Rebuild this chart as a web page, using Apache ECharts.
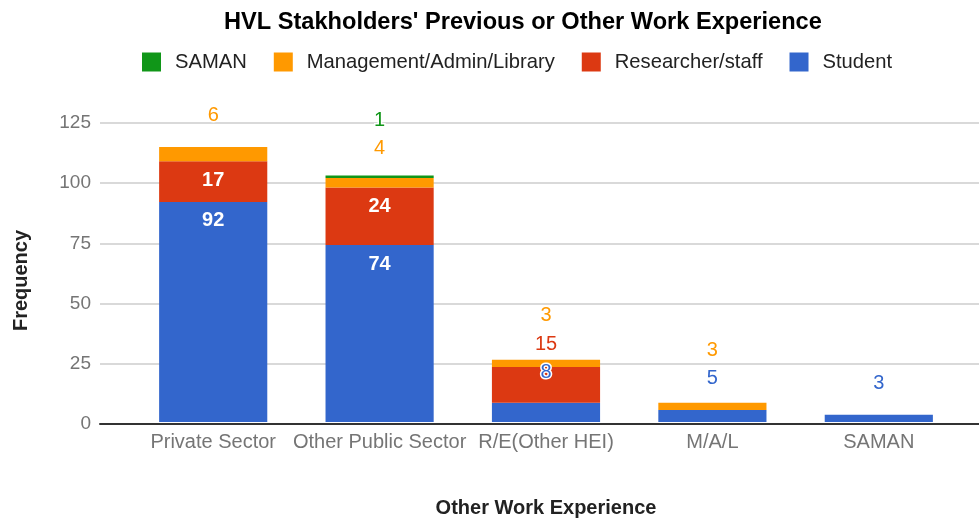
<!DOCTYPE html>
<html>
<head>
<meta charset="utf-8">
<script src="https://cdn.jsdelivr.net/npm/echarts@6/dist/echarts.min.js"></script>
<style>
html,body{margin:0;padding:0;background:#fff;}
#chart{width:979px;height:523px;}
</style>
</head>
<body>
<div id="chart"></div>
<script>
// ---- data ----
const categories = ['Private Sector', 'Other Public Sector', 'R/E(Other HEI)', 'M/A/L', 'SAMAN'];
const student    = [92, 74, 8, 5, 3];
const researcher = [17, 24, 15, 0, 0];
const management = [6, 4, 3, 3, 0];
const saman      = [0, 1, 0, 0, 0];
const yMin = 0, yMax = 125, yInterval = 25;

// ---- styling / layout ----
const FONT = '"Liberation Sans", Arial, sans-serif';
const colors = { student: '#3366cc', researcher: '#dc3912', management: '#ff9900', saman: '#109618' };
const gridTop = 123, gridBottom = 99;
const plotH = 523 - gridTop - gridBottom;
const ppu = plotH / (yMax - yMin);
const annotationLift = [31, 27, -13, 24, 31]; // px above bar top for first outside label
const annotationStep = 28.5;
const insideMinPx = 40;

const stackOrder = [
  { name: 'Student', values: student, color: colors.student },
  { name: 'Researcher/staff', values: researcher, color: colors.researcher },
  { name: 'Management/Admin/Library', values: management, color: colors.management },
  { name: 'SAMAN', values: saman, color: colors.saman }
];

function isInside(v) { return v * ppu >= insideMinPx; }

const series = stackOrder.map((s, si) => {
  const data = s.values.map((v, c) => {
    if (!v) return { value: v, label: { show: false } };
    if (isInside(v)) {
      return { value: v, label: { show: true, position: ['50%', 19], align: 'center', verticalAlign: 'middle',
        color: '#fff', fontWeight: 'bold', fontSize: 20, fontFamily: FONT } };
    }
    let rank = 0;
    for (let k = 0; k < si; k++) {
      const w = stackOrder[k].values[c];
      if (w && !isInside(w)) rank++;
    }
    let above = 0;
    for (let k = si + 1; k < stackOrder.length; k++) above += stackOrder[k].values[c];
    const lift = annotationLift[c] + rank * annotationStep;
    const y = -(above * ppu + lift);
    return { value: v, label: { show: true, position: ['50%', y], align: 'center', verticalAlign: 'middle',
      color: s.color, fontSize: 20, fontFamily: FONT, textBorderColor: '#fff', textBorderWidth: 3 } };
  });
  return {
    name: s.name, type: 'bar', stack: 'total', xAxisIndex: 1, yAxisIndex: 1,
    barWidth: '65%', itemStyle: { color: s.color }, data: data,
    emphasis: { disabled: true }, z: 3
  };
});

const chart = echarts.init(document.getElementById('chart'), null, { renderer: 'canvas' });
chart.setOption({
  animation: false,
  color: stackOrder.map(s => s.color),
  title: {
    text: "HVL Stakholders' Previous or Other Work Experience",
    left: 219, top: 5,
    textStyle: { fontFamily: FONT, fontSize: 23.6, fontWeight: 'bold', color: '#000' }
  },
  legend: {
    data: ['SAMAN', 'Management/Admin/Library', 'Researcher/staff', 'Student'],
    left: 137, top: 47,
    icon: 'rect', itemWidth: 19, itemHeight: 19, itemGap: 27,
    selectedMode: false,
    textStyle: { fontFamily: FONT, fontSize: 20.2, color: '#222', padding: [0, 0, 0, 9] }
  },
  grid: [
    { left: 100, right: 0, top: gridTop, bottom: gridBottom },
    { left: 130, right: 17, top: gridTop, bottom: gridBottom }
  ],
  xAxis: [
    { gridIndex: 0, type: 'value', min: 0, max: 1, z: 10,
      axisLine: { show: true, onZero: false, lineStyle: { color: '#333', width: 2 } },
      axisTick: { show: false }, axisLabel: { show: false }, splitLine: { show: false } },
    { gridIndex: 1, type: 'category', data: categories,
      name: 'Other Work Experience', nameLocation: 'middle', nameGap: 76,
      nameTextStyle: { fontFamily: FONT, fontSize: 20, fontWeight: 'bold', color: '#222' },
      axisLine: { show: false }, axisTick: { show: false },
      axisLabel: { fontFamily: FONT, fontSize: 20, color: '#757575', margin: 10, interval: 0 } }
  ],
  yAxis: [
    { gridIndex: 0, type: 'value', min: yMin, max: yMax, interval: yInterval,
      name: 'Frequency', nameLocation: 'middle', nameGap: 69,
      nameTextStyle: { fontFamily: FONT, fontSize: 20, fontWeight: 'bold', color: '#222', padding: [0, 14, 0, 0] },
      axisLine: { show: false }, axisTick: { show: false },
      axisLabel: { fontFamily: FONT, fontSize: 19, color: '#757575', margin: 9 },
      splitLine: { lineStyle: { color: '#cccccc', width: 1.5 } } },
    { gridIndex: 1, type: 'value', min: yMin, max: yMax, interval: yInterval, show: false,
      splitLine: { show: false } }
  ],
  series: series
});
</script>
</body>
</html>
